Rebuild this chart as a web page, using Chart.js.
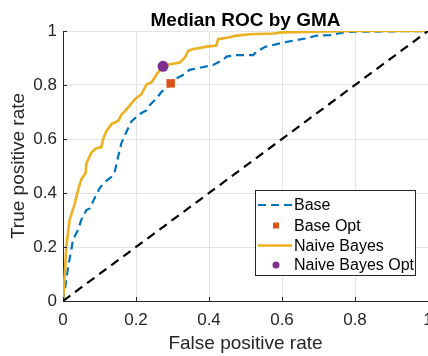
<!DOCTYPE html>
<html>
<head>
<meta charset="utf-8">
<script src="https://cdn.jsdelivr.net/npm/chart.js@4/dist/chart.umd.min.js"></script>
<style>
html,body{margin:0;padding:0;background:#fff;}
#wrap{width:428px;height:356px;position:relative;}
</style>
</head>
<body>
<div id="wrap"><canvas id="c" width="428" height="356"></canvas></div>
<script>
// ---- data ----
const tickLabels = ['0', '0.2', '0.4', '0.6', '0.8', '1'];
const baseFPR = [0, 0.009, 0.014, 0.023, 0.027, 0.041, 0.05, 0.064, 0.073, 0.082, 0.09, 0.10, 0.114, 0.133, 0.142, 0.151, 0.16, 0.174, 0.187, 0.206, 0.229, 0.238, 0.256, 0.27, 0.283, 0.311, 0.329, 0.347, 0.375, 0.411, 0.439, 0.448, 0.475, 0.521, 0.53, 0.553, 0.576, 0.594, 0.613, 0.667, 0.695, 0.731, 0.777, 1];
const baseTPR = [0, 0.078, 0.127, 0.19, 0.226, 0.263, 0.30, 0.337, 0.343, 0.368, 0.39, 0.417, 0.44, 0.46, 0.48, 0.534, 0.585, 0.627, 0.664, 0.689, 0.707, 0.726, 0.75, 0.775, 0.788, 0.825, 0.837, 0.856, 0.864, 0.874, 0.893, 0.905, 0.911, 0.911, 0.923, 0.941, 0.948, 0.954, 0.96, 0.973, 0.983, 0.985, 0.997, 1];
const nbFPR = [0, 0.005, 0.009, 0.018, 0.032, 0.041, 0.05, 0.062, 0.064, 0.078, 0.09, 0.105, 0.11, 0.119, 0.133, 0.151, 0.16, 0.174, 0.197, 0.215, 0.229, 0.242, 0.26, 0.274, 0.293, 0.32, 0.334, 0.343, 0.356, 0.375, 0.393, 0.42, 0.425, 0.457, 0.471, 0.512, 0.576, 0.60, 0.786, 1];
const nbTPR = [0, 0.10, 0.20, 0.30, 0.36, 0.41, 0.45, 0.475, 0.51, 0.55, 0.565, 0.57, 0.60, 0.63, 0.655, 0.667, 0.69, 0.71, 0.747, 0.766, 0.803, 0.809, 0.846, 0.869, 0.877, 0.883, 0.902, 0.927, 0.933, 0.937, 0.942, 0.946, 0.97, 0.977, 0.982, 0.988, 0.991, 0.995, 1.0, 1.0];
const chanceFPR = [0, 1];
const chanceTPR = [0, 1];
const baseOpt = [0.295, 0.806];
const nbOpt = [0.274, 0.869];
const seriesNames = ['Base', 'Base Opt', 'Naive Bayes', 'Naive Bayes Opt'];
const titleText = 'Median ROC by GMA';

// ---- style ----
const FONT = '"Liberation Sans", Arial, Helvetica, sans-serif';
const DARK = '#262626';
const BLUE = '#0072BD', ORANGE = '#D95319', YELLOW = '#EDB120', PURPLE = '#7E2F8E';

const pts = (xs, ys) => xs.map((x, i) => ({x: x, y: ys[i]}));

const titlePlugin = {
  id: 'mTitle',
  afterDraw(chart) {
    const ctx = chart.ctx, a = chart.chartArea;
    ctx.save();
    ctx.font = 'bold 19px ' + FONT;
    ctx.fillStyle = '#000';
    ctx.textAlign = 'center';
    ctx.textBaseline = 'alphabetic';
    ctx.fillText(titleText, (a.left + a.right) / 2, 26);
    ctx.restore();
  }
};

const tickMarks = {
  id: 'tickMarks',
  afterDraw(chart) {
    const ctx = chart.ctx, xs = chart.scales.x, ys = chart.scales.y;
    ctx.save();
    ctx.strokeStyle = DARK; ctx.lineWidth = 1;
    ctx.beginPath();
    xs.ticks.forEach(t => { const p = Math.round(xs.getPixelForValue(t.value)) + 0.5; ctx.moveTo(p, ys.bottom); ctx.lineTo(p, ys.bottom - 4); });
    ys.ticks.forEach(t => { const p = Math.round(ys.getPixelForValue(t.value)) + 0.5; ctx.moveTo(xs.left, p); ctx.lineTo(xs.left + 4, p); });
    ctx.stroke();
    ctx.restore();
  }
};

const legendPlugin = {
  id: 'mLegend',
  afterDraw(chart) {
    const ctx = chart.ctx;
    const L = 255.5, T = 190.5, W = 160, H = 85;
    ctx.save();
    ctx.fillStyle = '#fff';
    ctx.fillRect(L, T, W, H);
    ctx.strokeStyle = DARK; ctx.lineWidth = 1;
    ctx.strokeRect(L, T, W, H);
    ctx.font = '16px ' + FONT;
    ctx.fillStyle = '#000';
    ctx.textAlign = 'left'; ctx.textBaseline = 'middle';
    const rows = [205, 225.5, 245.5, 265];
    const ds = chart.data.datasets;
    seriesNames.forEach((name, i) => {
      const y = rows[i];
      const d = ds.find(s => s.label === name);
      if (d.showLine) {
        ctx.save();
        ctx.strokeStyle = d.borderColor; ctx.lineWidth = d.borderWidth;
        ctx.setLineDash(d.borderDash || []);
        ctx.beginPath(); ctx.moveTo(258, y); ctx.lineTo(292, y); ctx.stroke();
        ctx.restore();
      } else {
        ctx.fillStyle = d.backgroundColor;
        if (d.pointStyle === 'rect') ctx.fillRect(273, y - 3, 6, 6);
        else { ctx.beginPath(); ctx.arc(276, y, 3.5, 0, Math.PI * 2); ctx.fill(); }
        ctx.fillStyle = '#000';
      }
      ctx.fillText(name, 294, y + 1);
    });
    ctx.restore();
  }
};

new Chart(document.getElementById('c'), {
  type: 'scatter',
  data: {
    datasets: [
      { label: 'Base', data: pts(baseFPR, baseTPR), showLine: true, borderColor: BLUE, borderWidth: 2.2, borderDash: [8, 5], pointRadius: 0, fill: false, order: 4 },
      { label: 'Naive Bayes', data: pts(nbFPR, nbTPR), showLine: true, borderColor: YELLOW, borderWidth: 2.6, pointRadius: 0, fill: false, order: 3 },
      { label: 'Chance', data: pts(chanceFPR, chanceTPR), showLine: true, borderColor: '#000', borderWidth: 2.2, borderDash: [9, 6], pointRadius: 0, fill: false, order: 2 },
      { label: 'Base Opt', data: [{x: baseOpt[0], y: baseOpt[1]}], showLine: false, pointStyle: 'rect', pointRadius: 6, backgroundColor: ORANGE, borderColor: ORANGE, borderWidth: 0, order: 1 },
      { label: 'Naive Bayes Opt', data: [{x: nbOpt[0], y: nbOpt[1]}], showLine: false, pointStyle: 'circle', pointRadius: 5.5, backgroundColor: PURPLE, borderColor: PURPLE, borderWidth: 0, order: 0 }
    ]
  },
  options: {
    responsive: false,
    animation: false,
    events: [],
    layout: { autoPadding: false, padding: { top: 31, right: 0, left: 0, bottom: 0 } },
    plugins: { legend: { display: false }, title: { display: false }, tooltip: { enabled: false } },
    scales: {
      x: {
        type: 'linear', min: 0, max: 1,
        afterFit(s) { s.height = 55; s.paddingRight = 0; s.paddingLeft = 0; },
        afterBuildTicks(s) { s.ticks = tickLabels.map(t => ({ value: parseFloat(t) })); },
        ticks: { color: DARK, font: { family: FONT, size: 17 }, padding: 9, maxRotation: 0, callback: (v) => tickLabels.find(t => parseFloat(t) === v) },
        grid: { color: '#e3e3e3', drawTicks: false },
        border: { color: DARK, width: 1 },
        title: { display: true, text: 'False positive rate', color: DARK, font: { family: FONT, size: 19 }, padding: { top: 0, bottom: 1 } }
      },
      y: {
        type: 'linear', min: 0, max: 1,
        afterFit(s) { s.width = 63; s.paddingTop = 0; s.paddingBottom = 0; },
        afterBuildTicks(s) { s.ticks = tickLabels.map(t => ({ value: parseFloat(t) })); },
        ticks: { color: DARK, font: { family: FONT, size: 17 }, padding: 6, callback: (v) => tickLabels.find(t => parseFloat(t) === v) },
        grid: { color: '#e3e3e3', drawTicks: false },
        border: { color: DARK, width: 1 },
        title: { display: true, text: 'True positive rate', color: DARK, font: { family: FONT, size: 19 }, padding: { top: 7, bottom: 0 } }
      }
    }
  },
  plugins: [tickMarks, legendPlugin, titlePlugin]
});
</script>
</body>
</html>
